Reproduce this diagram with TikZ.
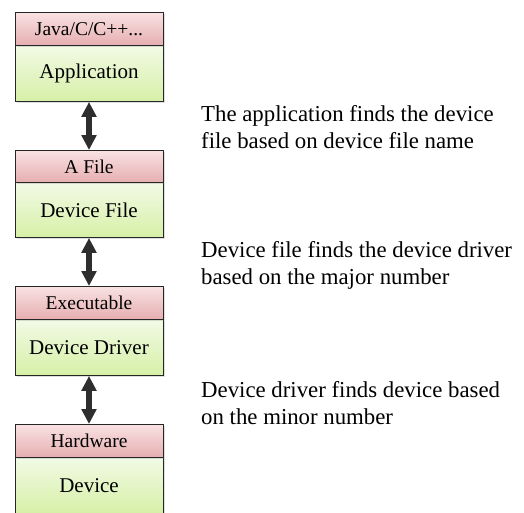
\documentclass[tikz,border=0pt]{standalone}
\usepackage{fontspec}
\setmainfont{Liberation Serif}
\usetikzlibrary{arrows.meta,shadows}
\definecolor{hdtop}{HTML}{F9E2E2}
\definecolor{hdbot}{HTML}{E6AEB0}
\definecolor{bdtop}{HTML}{F2FAE6}
\definecolor{bdbot}{HTML}{D6F0A6}
\definecolor{arr}{HTML}{2E2E2E}
\tikzset{
  hdr/.style={draw=black!85, line width=0.9pt, top color=hdtop, bottom color=hdbot,
    minimum width=148pt, minimum height=33pt, inner sep=0pt, anchor=north,
    font=\fontsize{19.5}{23}\selectfont, drop shadow={opacity=0.25, shadow xshift=2pt, shadow yshift=-2pt}},
  bdy/.style={draw=black!85, line width=0.9pt, top color=bdtop, bottom color=bdbot,
    minimum width=148pt, minimum height=56pt, inner sep=0pt, anchor=north,
    font=\fontsize{21}{25}\selectfont, drop shadow={opacity=0.25, shadow xshift=2pt, shadow yshift=-2pt}},
  desc/.style={anchor=north west, align=left, inner sep=0pt,
    font=\fontsize{22.8}{27.5}\selectfont},
  link/.style={draw=arr, line width=5.5pt, {Triangle[width=14.5pt,length=15pt]}-{Triangle[width=14.5pt,length=15pt]}}
}
\begin{document}
\begin{tikzpicture}[x=1pt,y=-1pt]
\useasboundingbox (0,0) rectangle (524,512);
% box 1
\node[bdy] (b1) at (89,45) {Application};
\node[hdr] (h1) at (89,12) {Java/C/C++...};
% box 2
\node[bdy, minimum height=55pt] (b2) at (89,182) {Device File};
\node[hdr, minimum height=32pt] (h2) at (89,150) {A File};
% box 3
\node[bdy] (b3) at (89,319) {Device Driver};
\node[hdr] (h3) at (89,286) {Executable};
% box 4
\node[bdy] (b4) at (89,457) {Device};
\node[hdr] (h4) at (89,424) {Hardware};
% arrows
\draw[link] (b1.south) -- (h2.north);
\draw[link] (b2.south) -- (h3.north);
\draw[link] (b3.south) -- (h4.north);
% descriptions
\node[desc] (t1) at (201,105) {The application finds the device\\file based on device file name};
\node[desc] (t2) at (201,241) {Device file finds the device driver\\based on the major number};
\node[desc] (t3) at (201,381) {Device driver finds device based\\on the minor number};
\end{tikzpicture}
\end{document}
